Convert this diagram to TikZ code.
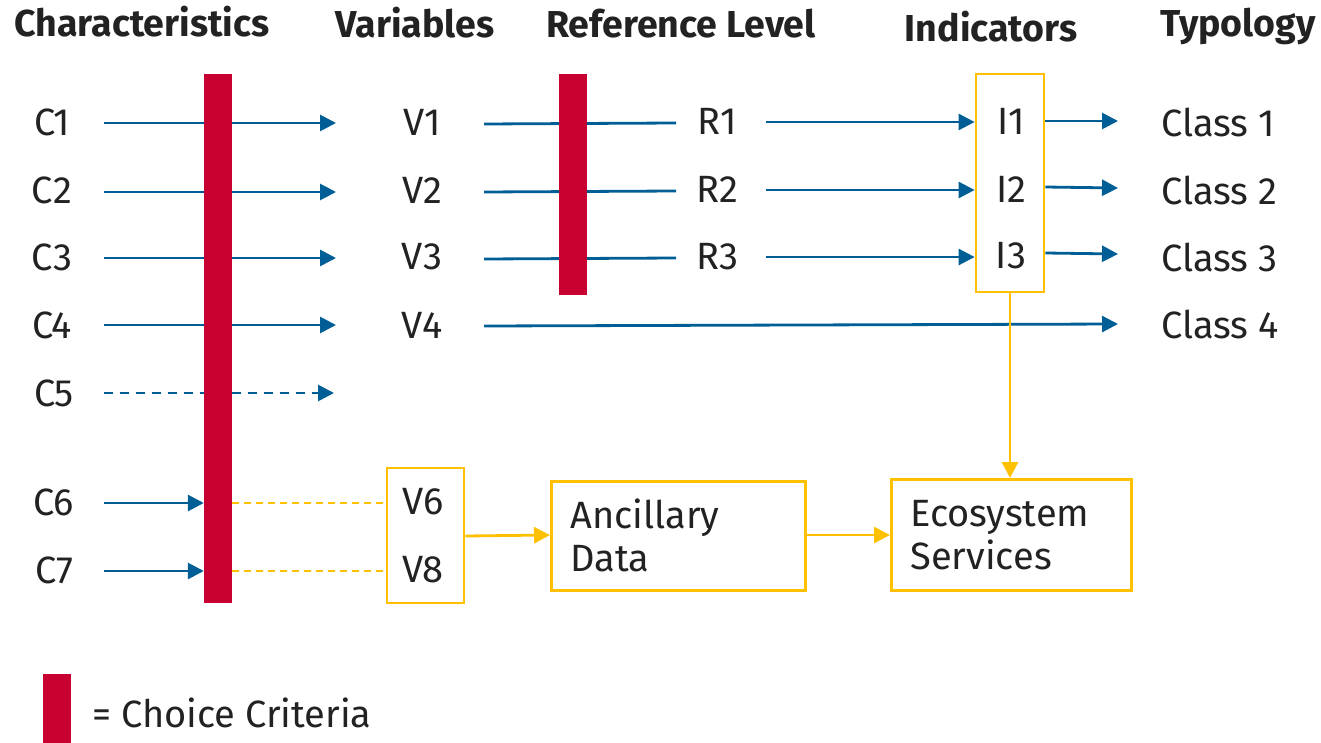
\documentclass[tikz,border=0pt]{standalone}
\usepackage{fontspec}
\setmainfont{Fira Sans}
\newfontfamily\hdrfont{Fira Sans Bold}
\usetikzlibrary{arrows.meta}
\definecolor{cblue}{RGB}{0,94,150}
\definecolor{cred}{RGB}{200,0,50}
\definecolor{cyel}{RGB}{255,192,0}
\definecolor{ctext}{RGB}{34,34,34}
\begin{document}
\begin{tikzpicture}[x=1pt,y=-1pt,
  lbl/.style={font=\fontsize{38}{43}\selectfont, text=ctext, inner sep=0pt},
  hdr/.style={font=\hdrfont\fontsize{37.5}{44}\selectfont, text=ctext, inner sep=0pt, anchor=base},
  tip/.style={-{Triangle[length=16pt,width=16pt]}},
  bline/.style={draw=cblue, line width=2.8pt},
  barrow/.style={bline, tip},
  bdash/.style={bline, dash pattern=on 9pt off 7pt},
  yline/.style={draw=cyel, line width=2.8pt},
  yarrow/.style={yline, tip},
  ydash/.style={draw=cyel, line width=2pt, dash pattern=on 7pt off 5pt},
  bar/.style={fill=cred, draw=none, inner sep=0pt, minimum width=28pt},
  ybox/.style={draw=cyel, line width=2.8pt, inner sep=0pt},
]
\useasboundingbox (0,0) rectangle (1321,743);
\fill[white] (0,0) rectangle (1321,743);

% headers
\node[hdr] (h1) at (142,37) {Characteristics};
\node[hdr] (h2) at (415,38) {Variables};
\node[hdr] (h3) at (681,38) {Reference Level};
\node[hdr] (h4) at (991,42) {Indicators};
\node[hdr] (h5) at (1238,37) {Typology};

% characteristics
\node[lbl] (c1) at (52,122) {C1};
\node[lbl] (c2) at (52,190) {C2};
\node[lbl] (c3) at (52,257) {C3};
\node[lbl] (c4) at (52,325) {C4};
\node[lbl] (c5) at (54,393) {C5};
\node[lbl] (c6) at (54,502) {C6};
\node[lbl] (c7) at (54,570) {C7};

% variables
\node[lbl] (v1) at (422,122) {V1};
\node[lbl] (v2) at (422,190) {V2};
\node[lbl] (v3) at (422,257) {V3};
\node[lbl] (v4) at (422,325) {V4};
\node[ybox, minimum width=77pt, minimum height=135pt] (vbox) at (425.5,535.5) {};
\node[lbl] (v6) at (423,502) {V6};
\node[lbl] (v8) at (423,570) {V8};

% reference
\node[lbl] (r1) at (717,121) {R1};
\node[lbl] (r2) at (717,189) {R2};
\node[lbl] (r3) at (717,257) {R3};

% indicators
\node[ybox, minimum width=68pt, minimum height=218pt] (ibox) at (1010,183) {};
\node[lbl] (i1) at (1011,121) {I1};
\node[lbl] (i2) at (1011,189) {I2};
\node[lbl] (i3) at (1011,256) {I3};

% classes
\node[lbl, anchor=west] (k1) at (1161,122) {Class 1};
\node[lbl, anchor=west] (k2) at (1161,190) {Class 2};
\node[lbl, anchor=west] (k3) at (1161,257) {Class 3};
\node[lbl, anchor=west] (k4) at (1161,324) {Class 4};

% boxes
\node[ybox, anchor=north west, minimum width=254pt, minimum height=109pt,
      text width=216pt, align=left, inner xsep=19pt, lbl] (anc) at (550,480) {Ancillary\\Data};
\node[ybox, anchor=north west, minimum width=240pt, minimum height=111pt,
      text width=202pt, align=left, inner xsep=19pt, lbl] (eco) at (890,478) {Ecosystem\\Services};

% connector coordinates
\coordinate (a1) at (104,123); \coordinate (b1) at (336,123);
\coordinate (a2) at (104,192); \coordinate (b2) at (336,192);
\coordinate (a3) at (104,258); \coordinate (b3) at (336,258);
\coordinate (a4) at (104,325); \coordinate (b4) at (336,325);
\coordinate (a5) at (104,393); \coordinate (b5) at (334,393);
\coordinate (a6) at (104,503);
\coordinate (a7) at (104,571);

\coordinate (p1) at (484,124); \coordinate (q1) at (676,123);
\coordinate (p2) at (484,192); \coordinate (q2) at (676,191);
\coordinate (p3) at (484,259); \coordinate (q3) at (676,258);
\coordinate (p4) at (484,326); \coordinate (q4) at (1118,324);

\coordinate (s1) at (766,122); \coordinate (s2) at (766,190); \coordinate (s3) at (766,257);
\coordinate (t1) at (1118,121); \coordinate (t2) at (1118,188); \coordinate (t3) at (1118,254);

% blue connectors C -> V
\foreach \i in {1,2,3,4}{\draw[barrow] (a\i) -- (b\i);}
\draw[bdash, tip] (a5) -- (b5);

% V -> R
\foreach \i in {1,2,3}{\draw[bline] (p\i) -- (q\i);}
\draw[barrow] (p4) -- (q4);

% R -> I
\foreach \i in {1,2,3}{\draw[barrow] (s\i) -- (s\i -| ibox.west);}
% I -> Class
\draw[barrow] (ibox.east |- 0,121) -- (t1);
\draw[barrow] (ibox.east |- 0,187) -- (t2);
\draw[barrow] (ibox.east |- 0,253) -- (t3);

% yellow
\draw[yarrow] (ibox.south) -- (eco.north -| ibox.south);
\draw[yarrow] (vbox.east |- 0,536) -- (anc.west |- 0,535);
\draw[yarrow] (anc.east |- 0,535) -- (eco.west |- 0,535);

% choice bars (drawn over the lines)
\node[bar, minimum height=529pt] (bar1) at (218,338.5) {};
\node[bar, minimum height=221pt] (bar2) at (573,184.5) {};

\draw[barrow] (a6) -- (a6 -| bar1.west);
\draw[barrow] (a7) -- (a7 -| bar1.west);
\draw[ydash] (bar1.east |- a6) -- (vbox.west |- a6);
\draw[ydash] (bar1.east |- a7) -- (vbox.west |- a7);

% legend
\node[bar, minimum height=69pt] (leg) at (57,708.5) {};
\node[lbl, anchor=west] (legt) at (92,713) {= Choice Criteria};
\end{tikzpicture}
\end{document}
